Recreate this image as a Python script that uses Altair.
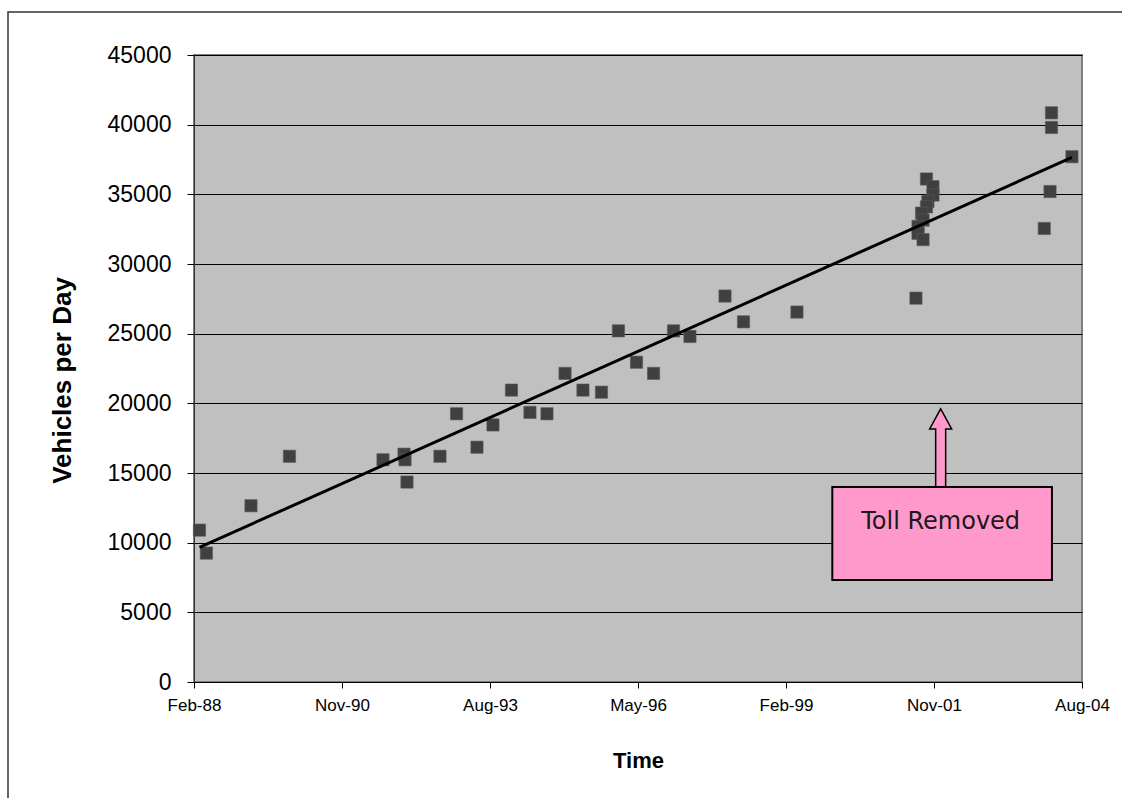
import altair as alt
import numpy as np
import pandas as pd

# Daily traffic counts (vehicles per day) by count date
count_dates = [
    "1988-04-04", "1988-05-21", "1989-03-18", "1989-12-03", "1991-08-27",
    "1992-01-16", "1992-01-23", "1992-02-05", "1992-09-15", "1993-01-05",
    "1993-05-23", "1993-09-08", "1994-01-11", "1994-05-16", "1994-09-08",
    "1995-01-08", "1995-05-09", "1995-09-11", "1996-01-04", "1996-05-05",
    "1996-08-28", "1997-01-10", "1997-05-01", "1997-12-24", "1998-04-28",
    "1999-04-24", "2001-07-06",
    "2001-09-15", "2001-10-29", "2001-10-29", "2001-09-25", "2001-09-15",
    "2001-08-13", "2001-08-23", "2001-07-20", "2001-07-20", "2001-08-23",
    "2004-01-08", "2004-01-08", "2004-05-25", "2003-12-29", "2003-11-20",
]
vehicles = [
    10900, 9250, 12650, 16200, 15950,
    16350, 15950, 14350, 16200, 19250,
    16850, 18450, 20950, 19350, 19250,
    22150, 20950, 20800, 25200, 22950,
    22150, 25200, 24800, 27700, 25850,
    26550, 27550,
    36100, 35550, 34950, 34500, 34100,
    33650, 33150, 32700, 32200, 31750,
    40850, 39800, 37700, 35200, 32550,
]

# Axis ticks every 1000 days
tick_dates = [(1988, 2, 27), (1990, 11, 23), (1993, 8, 19), (1996, 5, 15),
              (1999, 2, 9), (2001, 11, 5), (2004, 8, 1)]
y_ticks = list(range(0, 45001, 5000))

# "Toll Removed" callout: box corners, arrow centre, label anchor
note_text = "Toll Removed"
note_box_start, note_box_end = "1999-12-19", "2004-01-11"
note_box_top, note_box_bottom = 14000, 7320
note_arrow_date, note_arrow_value = "2001-12-20", 16800
note_text_value = 11500

PW, PH = 888, 627
BASE_FONT = "Liberation Sans"

df = pd.DataFrame({"date": count_dates, "vehicles": vehicles})

# Least-squares linear trend, evaluated at the first and last count dates
day_num = pd.to_datetime(df["date"]).map(pd.Timestamp.toordinal).to_numpy(dtype=float)
slope, intercept = np.polyfit(day_num, df["vehicles"].to_numpy(dtype=float), 1)
ends = [day_num.argmin(), day_num.argmax()]
trend_df = pd.DataFrame({
    "date": [df["date"][i] for i in ends],
    "fit": [slope * day_num[i] + intercept for i in ends],
})

tick_values = [alt.DateTime(year=y, month=m, date=d, utc=True) for y, m, d in tick_dates]

x_scale = alt.Scale(type="utc", domain=[tick_values[0], tick_values[-1]], nice=False)
y_scale = alt.Scale(domain=[0, 45000], nice=False)

x_axis = alt.Axis(
    values=tick_values, format="%b-%y", title="Time", grid=False,
    labelFont=BASE_FONT, labelFontSize=17, labelFlush=False,
    labelColor="black", labelPadding=9, tickSize=6, tickColor="black",
    domainColor="black", labelOverlap=False,
    titleFont=BASE_FONT, titleFontSize=22, titleFontWeight="bold", titleColor="black",
    titleX=PW / 2, titleY=78, titleBaseline="middle",
)
y_axis = alt.Axis(
    values=y_ticks, format="d", title="Vehicles per Day",
    labelFont=BASE_FONT, labelFontSize=23, labelColor="black", labelPadding=16,
    tickSize=7, tickColor="black", domainColor="#333333",
    grid=True, gridColor="black", gridWidth=1,
    titleFont=BASE_FONT, titleFontSize=26, titleFontWeight="bold", titleColor="black",
    titleX=-132, titleY=325, titleBaseline="middle", titleAngle=-90,
)

points = alt.Chart(df).mark_point(
    shape="square", filled=True, size=150, color="#404040", opacity=1,
    stroke="#5a5a5a", strokeWidth=0.6,
).encode(
    x=alt.X("date:T", scale=x_scale, axis=x_axis),
    y=alt.Y("vehicles:Q", scale=y_scale, axis=y_axis),
)

trend = alt.Chart(trend_df).mark_line(color="black", strokeWidth=3).encode(
    x=alt.X("date:T", scale=x_scale),
    y=alt.Y("fit:Q", scale=y_scale),
)

note_df = pd.DataFrame({
    "x": [note_box_start], "x2": [note_box_end],
    "y": [note_box_top], "y2": [note_box_bottom],
    "ax": [note_arrow_date], "ay": [note_arrow_value],
    "ty": [note_text_value], "label": [note_text],
})
note = alt.Chart(note_df)

arrow_path = ("M -0.128 1 L -0.128 -0.487 L -0.282 -0.487 L 0 -1 "
              "L 0.282 -0.487 L 0.128 -0.487 L 0.128 1 Z")
arrow = note.mark_point(
    shape=arrow_path, size=78 * 78, filled=True, fill="#FF99CC",
    stroke="black", strokeWidth=1.5, opacity=1,
).encode(
    x=alt.X("ax:T", scale=x_scale),
    y=alt.Y("ay:Q", scale=y_scale),
)

box = note.mark_rect(fill="#FF99CC", stroke="black", strokeWidth=2).encode(
    x=alt.X("x:T", scale=x_scale), x2="x2:T",
    y=alt.Y("y:Q", scale=y_scale), y2="y2:Q",
)

box_text = note.mark_text(
    font="DejaVu Sans", fontSize=24, color="#1a1a1a", baseline="middle", align="center",
).encode(
    x=alt.X("ax:T", scale=x_scale),
    y=alt.Y("ty:Q", scale=y_scale),
    text="label:N",
)

# Outer chart frame (runs off the right and bottom edges)
frame = alt.Chart(pd.DataFrame({"k": [0]})).mark_rect(
    fill=None, stroke="#333333", strokeWidth=1.5, clip=False,
).encode(
    x=alt.value(8 - 194), x2=alt.value(1122 - 194 + 20),
    y=alt.value(12 - 55), y2=alt.value(798 - 55 + 20),
)

chart = alt.layer(frame, points, trend, arrow, box, box_text).properties(
    width=PW, height=PH,
    autosize=alt.AutoSizeParams(type="none"),
    padding={"left": 194, "top": 55, "right": 40, "bottom": 116},
    background="white",
).configure_view(
    fill="#C0C0C0", stroke="#808080", strokeWidth=2,
)

chart.save("out.html", embed_options={"renderer": "svg", "actions": False})
